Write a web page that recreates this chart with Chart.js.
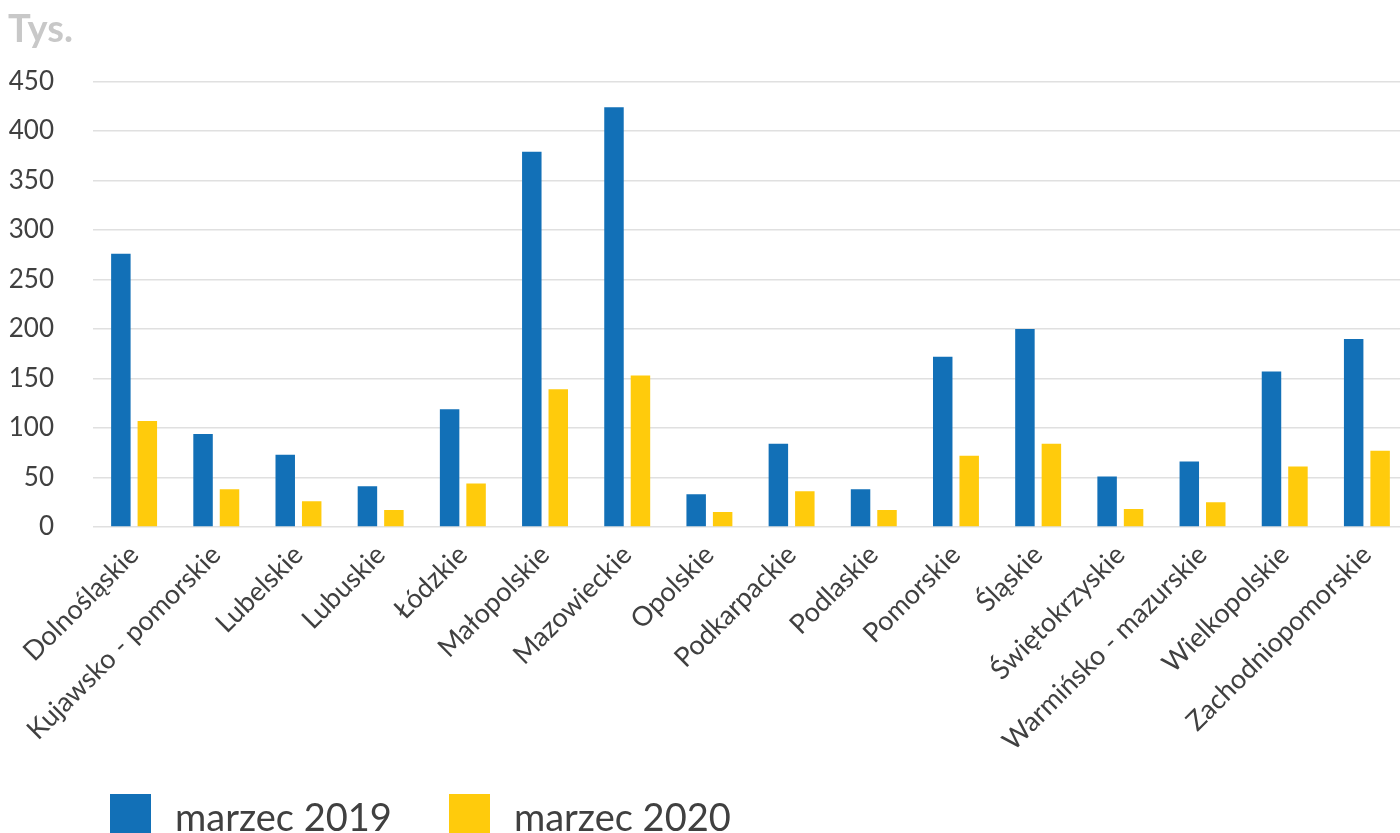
<!DOCTYPE html>
<html lang="pl">
<head>
<meta charset="UTF-8">
<title>Tys.</title>
<script src="https://cdn.jsdelivr.net/npm/chart.js"></script>
<style>
  html, body { margin: 0; padding: 0; background: #fff; overflow: hidden; }
  .wrap { position: relative; width: 1408px; height: 833px; }
  .legend { position: absolute; left: 110px; top: 794px; display: flex; align-items: flex-start;
            font-family: Lato, sans-serif; font-size: 38px; color: #404040; }
  .legend .item { display: flex; align-items: flex-start; margin-right: 57px; }
  .legend .box { width: 41px; height: 41px; margin-right: 24px; }
  .legend span { line-height: 41px; margin-top: 2px; }
</style>
</head>
<body>
<div class="wrap">
  <canvas id="wykres" width="1408" height="833"></canvas>
  <div class="legend" id="legenda"></div>
</div>
<script>
const kategorie = ['Dolnośląskie', 'Kujawsko - pomorskie', 'Lubelskie', 'Lubuskie', 'Łódzkie',
  'Małopolskie', 'Mazowieckie', 'Opolskie', 'Podkarpackie', 'Podlaskie', 'Pomorskie', 'Śląskie',
  'Świętokrzyskie', 'Warmińsko - mazurskie', 'Wielkopolskie', 'Zachodniopomorskie'];
const marzec2019 = [276, 94, 73, 41, 119, 379, 424, 33, 84, 38, 172, 200, 51, 66, 157, 190];
const marzec2020 = [107, 38, 26, 17, 44, 139, 153, 15, 36, 17, 72, 84, 18, 25, 61, 77];
const yTicki = [0, 50, 100, 150, 200, 250, 300, 350, 400, 450];

const NIEBIESKI = '#1270b7';
const ZOLTY = '#ffcb0c';

const ctx = document.getElementById('wykres').getContext('2d');
const wykres = new Chart(ctx, {
  type: 'bar',
  data: {
    labels: kategorie,
    datasets: [
      { label: 'marzec 2019', data: marzec2019, backgroundColor: NIEBIESKI },
      { label: 'marzec 2020', data: marzec2020, backgroundColor: ZOLTY }
    ]
  },
  options: {
    responsive: false,
    animation: false,
    layout: { padding: { left: 8, right: 0, top: 0, bottom: 72 } },
    datasets: { bar: { categoryPercentage: 0.644, barPercentage: 0.736 } },
    scales: {
      x: {
        grid: { display: false },
        border: { display: false },
        // obrócone etykiety mogą wchodzić pod oś Y, jak w oryginale
        afterFit: (axis) => { axis.paddingLeft = 0; axis.paddingRight = 0; },
        ticks: {
          autoSkip: false, maxRotation: 45, minRotation: 45, padding: 4,
          color: '#404040', font: { family: 'Lato', size: 27 }
        }
      },
      y: {
        min: 0, max: 450,
        afterBuildTicks: (axis) => { axis.ticks = yTicki.map(v => ({ value: v })); },
        // chart.js liczy padding podwójnie, więc szerokość osi ustawiam ręcznie
        afterFit: (axis) => { axis.width = 85; },
        grid: { color: '#e0e0e0', lineWidth: 1.5, drawTicks: false },
        border: { display: false },
        ticks: { padding: 39, color: '#404040', font: { family: 'Lato', size: 26 } }
      }
    },
    plugins: {
      legend: { display: false },
      tooltip: { enabled: false },
      title: {
        display: true, text: 'Tys.', align: 'start', color: '#c8c8c8',
        font: { family: 'Lato', size: 38, weight: 'bold' },
        padding: { top: 7, bottom: 29 }
      }
    }
  }
});

// legenda w HTML, z kolorów zbiorów danych
const legenda = document.getElementById('legenda');
wykres.data.datasets.forEach(ds => {
  const el = document.createElement('div');
  el.className = 'item';
  el.innerHTML = '<div class="box" style="background:' + ds.backgroundColor + '"></div><span>' + ds.label + '</span>';
  legenda.appendChild(el);
});
</script>
</body>
</html>
